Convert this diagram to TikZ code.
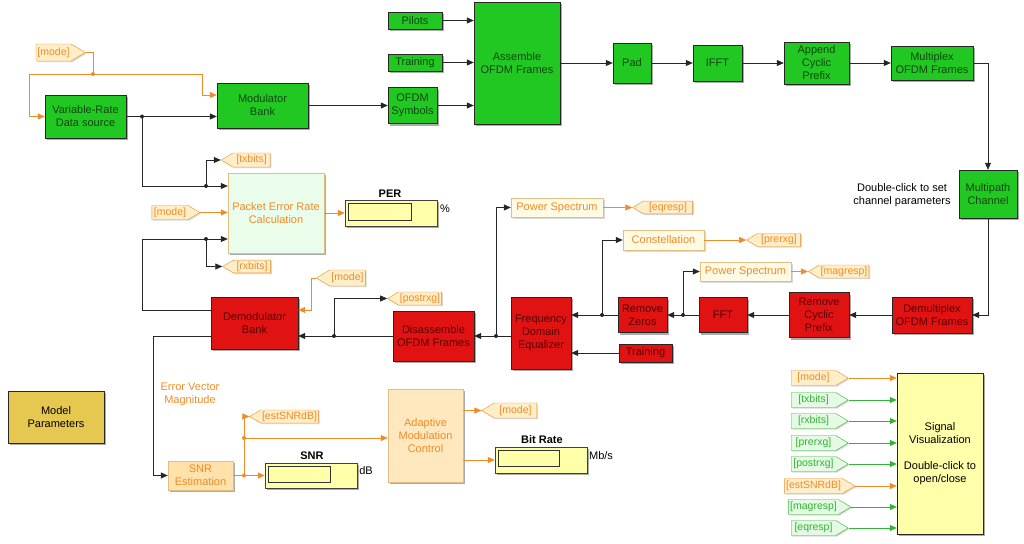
\documentclass[tikz,border=0pt]{standalone}
\usepackage{fontspec}
\setmainfont{Liberation Sans}
\usetikzlibrary{arrows.meta,positioning,shapes.symbols,shadows}

\definecolor{simgreen}{RGB}{34,200,34}
\definecolor{simgreentxt}{RGB}{15,70,15}
\definecolor{simred}{RGB}{225,18,18}
\definecolor{simredtxt}{RGB}{90,0,0}
\definecolor{simorange}{RGB}{240,140,40}
\definecolor{tagcream}{RGB}{255,238,200}
\definecolor{taggreen}{RGB}{50,180,50}
\definecolor{taggreenfill}{RGB}{228,250,228}
\definecolor{perfill}{RGB}{234,252,234}
\definecolor{vizfill}{RGB}{255,250,228}
\definecolor{vizedge}{RGB}{225,190,130}
\definecolor{amcfill}{RGB}{255,232,190}
\definecolor{estfill}{RGB}{255,225,170}
\definecolor{dispyellow}{RGB}{255,255,170}
\definecolor{parfill}{RGB}{230,200,80}

\begin{document}
\begin{tikzpicture}[x=1pt, y=-1pt,
  font=\fontsize{11}{13}\selectfont,
  sz/.style 2 args={minimum width=#1pt, minimum height=#2pt},
  shad/.style={drop shadow={shadow xshift=2pt, shadow yshift=-2pt,
               fill=black!55, opacity=.6}},
  blk/.style={draw=black!85, inner sep=0pt, align=center, shad},
  txblk/.style={blk, fill=simgreen, text=simgreentxt},
  rxblk/.style={blk, fill=simred, text=simredtxt},
  vizblk/.style={draw=vizedge, fill=vizfill, text=simorange, inner sep=0pt,
                 drop shadow={shadow xshift=1.5pt, shadow yshift=-1.5pt,
                 fill=black!30, opacity=.5}},
  perblk/.style={blk, draw=vizedge, fill=perfill, text=simorange},
  estblk/.style={blk, draw=vizedge, fill=estfill, text=simorange},
  amcblk/.style={blk, draw=vizedge, fill=amcfill, text=simorange},
  parblk/.style={blk, fill=parfill, text=black},
  sinkblk/.style={blk, fill=dispyellow, text=black},
  disp/.style={blk, draw=black!75, fill=dispyellow},
  dispin/.style={draw=black!80, fill=dispyellow, inner sep=0pt},
  disptitle/.style={font=\fontsize{11}{13}\selectfont\bfseries, inner sep=0pt},
  dispunit/.style={inner sep=0pt},
  note/.style={align=center, inner sep=0pt},
  evmtxt/.style={align=center, inner sep=0pt, text=simorange},
  tagbase/.style={signal, signal pointer angle=62, inner sep=1.5pt,
                  font=\fontsize{10.5}{12}\selectfont,
                  drop shadow={shadow xshift=1.2pt, shadow yshift=-1.2pt,
                  fill=black!30, opacity=.5}},
  otag/.style={tagbase, draw=simorange, fill=tagcream, text=simorange},
  gtag/.style={tagbase, draw=taggreen, fill=taggreenfill, text=taggreen},
  tagfrom/.style={otag, signal to=east},
  taggoto/.style={otag, signal to=west},
  ovtag/.style={otag, signal to=east},
  gvtag/.style={gtag, signal to=east},
  tip/.style={-{Triangle[length=7pt, width=6pt]}},
  link/.style={draw=black!85, line width=0.7pt},
  wire/.style={link, tip},
  olink/.style={draw=simorange, line width=0.7pt},
  owire/.style={olink, tip},
  gwire/.style={draw=taggreen, line width=0.7pt, tip}
]
\useasboundingbox (0,0) rectangle (1024,543);

%% Transmitter (green)
\node[txblk, sz={81}{43}]  (vrds)     at (85.5,116.5) {Variable-Rate\\Data source};
\node[txblk, sz={91}{45}]  (modbank)  at (262.5,105.5) {Modulator\\Bank};
\node[txblk, sz={54}{17}]  (pilots)   at (415,20.5)   {Pilots};
\node[txblk, sz={54}{17}]  (txtrain)  at (415,62.5)   {Training};
\node[txblk, sz={49}{36}]  (ofdmsym)  at (412.5,105.5) {OFDM\\Symbols};
\node[txblk, sz={86}{122}] (assemble) at (517,63)     {Assemble\\OFDM Frames};
\node[txblk, sz={38}{40}]  (pad)      at (632,63)     {Pad};
\node[txblk, sz={49}{36}]  (ifft)     at (717.5,63)   {IFFT};
\node[txblk, sz={65}{42}]  (addcp)    at (816.5,63)   {Append\\Cyclic\\Prefix};
\node[txblk, sz={82}{34}]  (mux)      at (932,63)     {Multiplex\\OFDM Frames};
\node[txblk, sz={58}{48}]  (chan)     at (988,194)    {Multipath\\Channel};
\node[note] (chnote) at (902,195) {Double-click to set\\channel parameters};

%% Receiver (red)
\node[rxblk, sz={80}{36}] (demux)   at (932,315)   {Demultiplex\\OFDM Frames};
\node[rxblk, sz={60}{45}] (remcp)   at (819,315)   {Remove\\Cyclic\\Prefix};
\node[rxblk, sz={48}{35}] (fft)     at (723,315)   {FFT};
\node[rxblk, sz={49}{35}] (remzero) at (642.5,315) {Remove\\Zeros};
\node[rxblk, sz={53}{18}] (rxtrain) at (645.5,353) {Training};
\node[rxblk, sz={60}{72}] (fde)     at (541,333)   {Frequency\\Domain\\Equalizer};
\node[rxblk, sz={81}{50}] (disasm)  at (433.5,336) {Disassemble\\OFDM Frames};
\node[rxblk, sz={87}{52}] (demod)   at (254.5,323) {Demodulator\\Bank};

%% Scopes and tags
\node[vizblk, sz={92}{19}] (psd1)    at (557,207.5)   {Power Spectrum};
\node[vizblk, sz={81}{20}] (constel) at (663.5,240)   {Constellation};
\node[vizblk, sz={91}{19}] (psd2)    at (745.5,271.5) {Power Spectrum};
\node[tagfrom, sz={49}{17}] (modetop) at (53.5,52.5)  {[mode]};
\node[tagfrom, sz={48}{14}] (modeper) at (170,212.5)  {[mode]};
\node[taggoto, sz={49}{14}] (txbits)  at (251.5,160)  {[txbits]};
\node[taggoto, sz={48}{12}] (rxbits)  at (252,266.5)  {[rxbits]};
\node[taggoto, sz={49}{16}] (modedm)  at (347.5,278)  {[mode]};
\node[taggoto, sz={54}{13}] (postrxg) at (420,298.5)  {[postrxg]};
\node[taggoto, sz={60}{12}] (eqresp)  at (668,207.5)  {[eqresp]};
\node[taggoto, sz={54}{13}] (prerxg)  at (779,240)    {[prerxg]};
\node[taggoto, sz={58}{13}] (magresp) at (844,271.5)  {[magresp]};
\node[taggoto, sz={59}{13}] (estsnr)  at (289.5,416.5) {[estSNRdB]};
\node[taggoto, sz={55}{15}] (modeamc) at (515.5,410.5) {[mode]};

%% Packet error rate
\node[perblk, sz={96}{80}] (percalc) at (276,213) {Packet Error Rate\\Calculation};
\node[disp, sz={92}{26}]   (perdisp)   at (391,213)   {};
\node[dispin, sz={63}{17}] (perdispin) at (379.5,211.5) {};
\node[disptitle] (perlbl)  at (390,194) {PER};
\node[dispunit]  (perunit) at (445,209) {\%};

%% SNR and adaptive modulation
\node[evmtxt] (evm) at (190,394) {Error Vector\\Magnitude};
\node[estblk, sz={65}{29}] (snrest)    at (200.5,475.5) {SNR\\Estimation};
\node[disp, sz={92}{25}]   (snrdisp)   at (311,475.5)   {};
\node[dispin, sz={62}{16}] (snrdispin) at (299,474)     {};
\node[disptitle] (snrlbl)  at (312,456) {SNR};
\node[dispunit]  (snrunit) at (366,471) {dB};
\node[amcblk, sz={75}{93}] (amc)      at (425.5,435.5) {Adaptive\\Modulation\\Control};
\node[disp, sz={92}{26}]   (brdisp)   at (541,460)     {};
\node[dispin, sz={61}{16}] (brdispin) at (528.5,458)   {};
\node[disptitle] (brlbl)  at (542,440) {Bit Rate};
\node[dispunit]  (brunit) at (601,456) {Mb/s};

%% Model parameters and visualization
\node[parblk, sz={96}{52}] (mparams) at (56,417) {Model\\Parameters};
\node[sinkblk, sz={86}{161}] (sigviz) at (940,453.5)
  {Signal\\Visualization\\[13pt]Double-click to\\open/close};

%% Junctions
\coordinate (jmode) at (93,74);
\coordinate (jsrc)  at (142,116.5);
\coordinate (jtx)   at (206,186);
\coordinate (jrx)   at (206,239);
\coordinate (jdis)  at (334,336);
\coordinate (jeq)   at (496,336);
\coordinate (jzero) at (602,315);
\coordinate (jfft)  at (683,315);
\coordinate (jsnr)  at (244,475.5);
\coordinate (jsnr2) at (244,438);

%% Source and mode wiring
\draw[olink] (modetop.east) -| (jmode);
\draw[owire] (jmode) -- (29,74) |- (vrds.west);
\draw[owire] (jmode) -- (202,74) |- (modbank.west |- 0,95);
\draw[wire] (vrds.east) -- (vrds.east -| modbank.west);
\draw[wire] (jsrc) |- (percalc.west |- jtx);
\draw[wire] (jtx) |- (txbits.west);

%% Transmit chain
\draw[wire] (modbank.east) -- (ofdmsym.west);
\draw[wire] (pilots.east) -- (pilots.east -| assemble.west);
\draw[wire] (txtrain.east) -- (txtrain.east -| assemble.west);
\draw[wire] (ofdmsym.east) -- (ofdmsym.east -| assemble.west);
\draw[wire] (assemble.east) -- (pad.west);
\draw[wire] (pad.east) -- (ifft.west);
\draw[wire] (ifft.east) -- (addcp.west);
\draw[wire] (addcp.east) -- (mux.west);
\draw[wire] (mux.east) -| (chan.north);
\draw[wire] (chan.south) |- (demux.east);

%% Receive chain
\draw[wire] (demux.west) -- (remcp.east);
\draw[wire] (remcp.west) -- (fft.east);
\draw[wire] (fft.west) -- (remzero.east);
\draw[wire] (jfft) |- (psd2.west);
\draw[owire] (psd2.east) -- (magresp.west);
\draw[wire] (remzero.west) -- (remzero.west -| fde.east);
\draw[wire] (jzero) |- (constel.west);
\draw[owire] (constel.east) -- (prerxg.west);
\draw[wire] (rxtrain.west) -- (rxtrain.west -| fde.east);
\draw[wire] (fde.west |- disasm.east) -- (disasm.east);
\draw[wire] (jeq) |- (psd1.west);
\draw[owire] (psd1.east) -- (eqresp.west);
\draw[wire] (disasm.west) -- (disasm.west -| demod.east);
\draw[wire] (jdis) |- (postrxg.west);
\draw[owire] (modedm.west) -- ++(-5,0) |- (demod.east |- 0,310);

%% Demodulator outputs
\draw[wire] (demod.west |- 0,310) -- (142,310) |- (percalc.west |- jrx);
\draw[wire] (jrx) |- (rxbits.west);
\draw[owire] (modeper.east) -- (modeper.east -| percalc.west);
\draw[owire] (percalc.east) -- (perdisp.west);
\draw[wire] (demod.west |- disasm.west) -- (153,336) |- (snrest.west);

%% SNR and modulation control
\draw[owire] (snrest.east) -- (snrdisp.west);
\draw[olink] (jsnr) -- (jsnr2);
\draw[owire] (jsnr2) -- (jsnr2 -| amc.west);
\draw[owire] (jsnr2) |- (estsnr.west);
\draw[owire] (amc.east |- modeamc.west) -- (modeamc.west);
\draw[owire] (amc.east |- brdisp.west) -- (brdisp.west);

%% Visualization inputs
\foreach \y/\lab/\st/\ln [count=\i] in {378/mode/ovtag/owire, 400/txbits/gvtag/gwire,
    421/rxbits/gvtag/gwire, 443/prerxg/gvtag/gwire, 464/postrxg/gvtag/gwire,
    486/estSNRdB/ovtag/owire, 507/magresp/gvtag/gwire, 528/eqresp/gvtag/gwire} {
  \node[\st, sz={57}{15}] (vin\i) at (813.5,\y) {[\lab]};
  \draw[\ln] (vin\i.east) -- (vin\i.east -| sigviz.west);
}

%% Junction dots
\foreach \j in {jsrc,jtx,jrx,jdis,jeq,jzero,jfft} \fill[black!85] (\j) circle (2pt);
\foreach \j in {jmode,jsnr,jsnr2} \fill[simorange] (\j) circle (2pt);
\end{tikzpicture}
\end{document}
